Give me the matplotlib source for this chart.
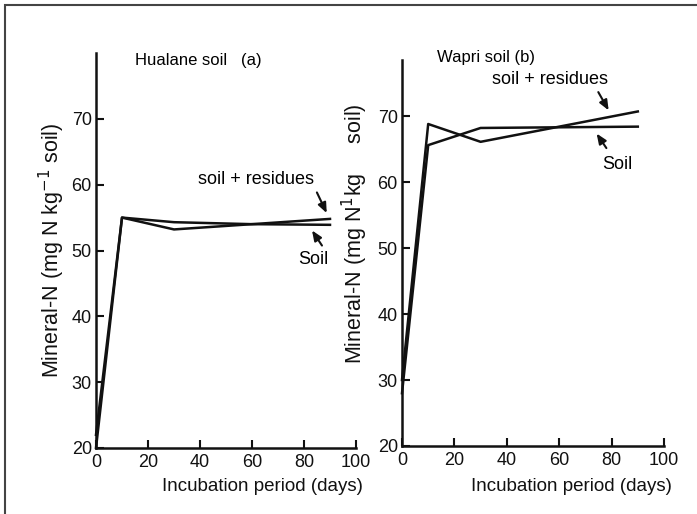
import matplotlib
matplotlib.use("Agg")
import matplotlib.pyplot as plt
from matplotlib.patches import Rectangle

plt.rcParams['font.family'] = ['Liberation Sans', 'DejaVu Sans']

# Hualane soil (a)
days_a = [0, 10, 30, 60, 90]
soil_a = [20, 55.0, 54.3, 54.0, 53.9]
resid_a = [22, 55.0, 53.2, 54.0, 54.8]

# Wapri soil (b)
days_b = [0, 10, 30, 60, 90]
soil_b = [28, 65.6, 68.2, 68.3, 68.4]
resid_b = [30, 68.8, 66.1, 68.4, 70.7]

xticks = [0, 20, 40, 60, 80, 100]
yticks = [20, 30, 40, 50, 60, 70]

W, H = 697, 514
fig = plt.figure(figsize=(W / 100, H / 100), dpi=100)
fig.patches.append(Rectangle((5 / W, -0.1), 1.2, (1 - 5 / H) + 0.1, transform=fig.transFigure,
                             fill=False, edgecolor='#444444', linewidth=1.5))

def ax_rect(l, r, t, b):
    return [l / W, 1 - b / H, (r - l) / W, (b - t) / H]

ax1 = fig.add_axes(ax_rect(96, 356, 53, 448))
ax2 = fig.add_axes(ax_rect(402, 664, 60, 446))

for ax, ytop in ((ax1, 80), (ax2, 78.5)):
    ax.set_xlim(0, 100)
    ax.set_ylim(20, ytop)
    ax.set_xticks(xticks)
    ax.set_yticks(yticks)
    for s in ('top', 'right'):
        ax.spines[s].set_visible(False)
    for s in ('left', 'bottom'):
        ax.spines[s].set_linewidth(1.8)
        ax.spines[s].set_color('#111111')
    ax.tick_params(direction='in', length=6, width=1.5, labelsize=13, colors='#111111')
    ax.tick_params(axis='y', pad=3)
    ax.tick_params(axis='x', pad=4)
    ax.set_xlabel('Incubation period (days)', fontsize=13.5, color='#111111')
    ax.patch.set_alpha(0)

lw = 1.8
ax1.plot(days_a, soil_a, color='#111111', lw=lw, clip_on=False)
ax1.plot(days_a, resid_a, color='#111111', lw=lw, clip_on=False)
ax2.plot(days_b, soil_b, color='#111111', lw=lw, clip_on=False)
ax2.plot(days_b, resid_b, color='#111111', lw=lw, clip_on=False)

ax1.set_ylabel('Mineral-N (mg N kg$^{-1}$ soil)', fontsize=15.5, color='#111111')
ax2.set_ylabel('Mineral-N (mg N$^{1}$kg     soil)', fontsize=15.5, color='#111111')
ax1.yaxis.set_label_coords(-0.11, 0.50)
ax2.yaxis.set_label_coords(-0.122, 0.55)
ax1.xaxis.set_label_coords(0.64, -0.075)
ax2.xaxis.set_label_coords(0.645, -0.082)

ax1.text(15, 78.8, 'Hualane soil   (a)', fontsize=12, va='center', ha='left', clip_on=False)
ax2.text(13.4, 78.9, 'Wapri soil (b)', fontsize=12, va='center', ha='left', clip_on=False)

ap = dict(arrowstyle='-|>,head_length=0.6,head_width=0.25', color='#111111', lw=1.5)
ax1.text(61.5, 60.8, 'soil + residues', fontsize=13, ha='center', va='center')
ax1.annotate('', xy=(89.2, 55.3), xytext=(84.5, 59.2), arrowprops=ap)
ax1.text(83.5, 48.6, 'Soil', fontsize=13, ha='center', va='center')
ax1.annotate('', xy=(82.5, 53.4), xytext=(87.5, 50.4), arrowprops=ap)

ax2.text(56.3, 75.6, 'soil + residues', fontsize=13, ha='center', va='center')
ax2.annotate('', xy=(79.4, 70.5), xytext=(74.4, 74.0), arrowprops=ap)
ax2.text(82, 62.6, 'Soil', fontsize=13, ha='center', va='center')
ax2.annotate('', xy=(73.7, 67.7), xytext=(78.6, 64.8), arrowprops=ap)

fig.savefig('out.png', dpi=100)
